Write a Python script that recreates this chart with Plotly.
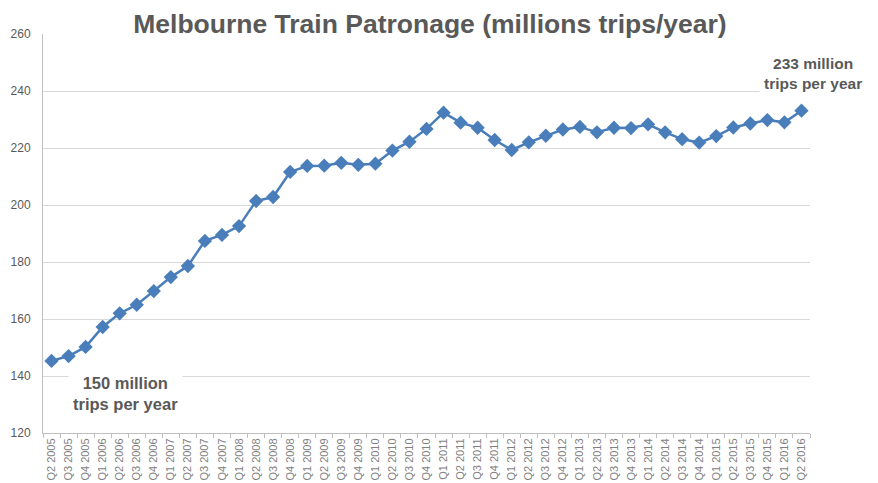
import plotly.graph_objects as go

quarters = [
    "Q2 2005", "Q3 2005", "Q4 2005",
    "Q1 2006", "Q2 2006", "Q3 2006", "Q4 2006",
    "Q1 2007", "Q2 2007", "Q3 2007", "Q4 2007",
    "Q1 2008", "Q2 2008", "Q3 2008", "Q4 2008",
    "Q1 2009", "Q2 2009", "Q3 2009", "Q4 2009",
    "Q1 2010", "Q2 2010", "Q3 2010", "Q4 2010",
    "Q1 2011", "Q2 2011", "Q3 2011", "Q4 2011",
    "Q1 2012", "Q2 2012", "Q3 2012", "Q4 2012",
    "Q1 2013", "Q2 2013", "Q3 2013", "Q4 2013",
    "Q1 2014", "Q2 2014", "Q3 2014", "Q4 2014",
    "Q1 2015", "Q2 2015", "Q3 2015", "Q4 2015",
    "Q1 2016", "Q2 2016",
]

patronage = [
    145.3, 147.0, 150.2,
    157.2, 162.0, 165.0, 169.8,
    174.7, 178.6, 187.4, 189.5,
    192.6, 201.4, 202.8, 211.6,
    213.7, 213.8, 214.8, 214.1,
    214.5, 219.1, 222.2, 226.7,
    232.4, 228.9, 227.1, 222.8,
    219.3, 222.0, 224.3, 226.5,
    227.4, 225.5, 227.1, 227.0,
    228.3, 225.5, 223.1, 221.9,
    224.2, 227.2, 228.6, 229.8,
    229.0, 233.1,
]

y_ticks = [120, 140, 160, 180, 200, 220, 240, 260]
grid_ticks = [140, 160, 180, 200, 220, 240]

title_text = "Melbourne Train Patronage (millions trips/year)"
start_note = "150 million<br>trips per year"
end_note = "233 million<br>trips per year"

blue = "#4a7ebb"
gray_text = "#595959"

fig = go.Figure()

fig.add_trace(go.Scatter(
    x=quarters,
    y=patronage,
    mode="lines+markers",
    line=dict(color=blue, width=2.5),
    marker=dict(symbol="diamond", size=11, color=blue),
    showlegend=False,
    hoverinfo="x+y",
))

# invisible helper trace on second axis for gridlines only
fig.add_trace(go.Scatter(
    x=[quarters[0]], y=[grid_ticks[0]], yaxis="y2",
    mode="markers", marker=dict(opacity=0), showlegend=False, hoverinfo="skip",
))

fig.update_layout(
    width=870,
    height=475,
    margin=dict(l=35, r=68, t=26, b=50),
    paper_bgcolor="white",
    plot_bgcolor="white",
    font=dict(family="Liberation Sans, Arial, sans-serif", color=gray_text),
    title=dict(
        text="<b>" + title_text + "</b>",
        font=dict(size=26.5, color=gray_text, family="Liberation Sans, Arial, sans-serif"),
        x=0.485, xanchor="center", y=0.966, yanchor="middle",
    ),
    xaxis=dict(
        type="category",
        tickangle=-90,
        tickfont=dict(size=11, color="#7f7f7f", family="Liberation Sans, Arial, sans-serif"),
        showline=True, linecolor="#bfbfbf", linewidth=1,
        ticks="outside", ticklen=4, tickcolor="#bfbfbf",
        tickson="boundaries",
        showgrid=False, zeroline=False,
        range=[-0.5, len(quarters) - 0.5],
        automargin=False,
    ),
    yaxis=dict(
        range=[120, 260],
        tickvals=y_ticks,
        tickfont=dict(size=12, color=gray_text),
        showgrid=False, zeroline=False,
        showline=True, linecolor="#bfbfbf", linewidth=1,
        ticks="outside", ticklen=9, tickcolor="white",
        automargin=False,
    ),
    yaxis2=dict(
        range=[120, 260],
        overlaying="y",
        tickvals=grid_ticks,
        showticklabels=False,
        showgrid=True, gridcolor="#d9d9d9", gridwidth=1,
        zeroline=False, showline=False,
        automargin=False,
    ),
    annotations=[
        dict(
            text="<b>" + start_note + "</b>",
            xref="paper", yref="y", x=0.107, y=133.7,
            xanchor="center", yanchor="middle",
            showarrow=False,
            font=dict(size=16.5, color=gray_text),
            bgcolor="white", borderpad=4, align="center",
        ),
        dict(
            text="<b>" + end_note + "</b>",
            xref="paper", yref="y", x=1.004, y=246.3,
            xanchor="center", yanchor="middle",
            showarrow=False,
            font=dict(size=15.5, color=gray_text),
            bgcolor="white", borderpad=4, align="center",
        ),
    ],
)

fig.write_html("out.html")
